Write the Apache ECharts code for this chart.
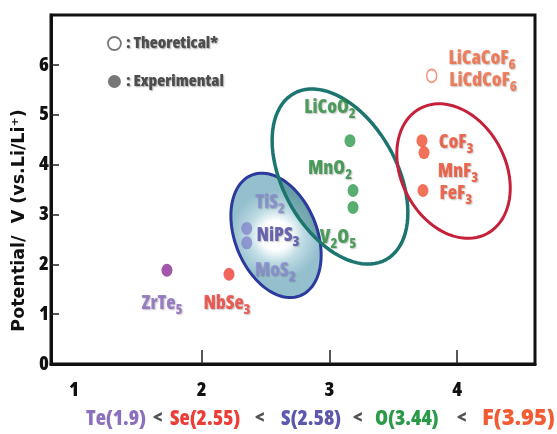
<!DOCTYPE html>
<html>
<head>
<meta charset="utf-8">
<script src="https://cdn.jsdelivr.net/npm/echarts@6.0.0/dist/echarts.min.js"></script>
<style>html,body{margin:0;padding:0;background:#fff}#c{width:557px;height:434px}</style>
</head>
<body>
<div id="c"></div>
<script>
// ---- data ----
const xTickLabels = [1, 2, 3, 4];
const yTickLabels = [0, 1, 2, 3, 4, 5, 6];
// experimental (filled) points
const expNames = ['ZrTe5', 'NbSe3', 'NiPS3', 'NiPS3', 'LiCoO2', 'MnO2', 'V2O5', 'CoF3', 'MnF3', 'FeF3'];
const expGroup = ['Te', 'Se', 'S', 'S', 'O', 'O', 'O', 'F', 'F', 'F'];
const expX = [1.728, 2.214, 2.353, 2.353, 3.161, 3.185, 3.185, 3.725, 3.741, 3.733];
const expY = [1.88, 1.80, 2.72, 2.43, 4.48, 3.48, 3.14, 4.48, 4.24, 3.48];
// theoretical (open) point
const theoNames = ['LiCaCoF6 / LiCdCoF6'];
const theoX = [3.801];
const theoY = [5.78];
// compound labels (anchor in data units)
const labelText = ['ZrTe{s|5}', 'NbSe{s|3}', 'TiS{s|2}', 'NiPS{s|3}', 'MoS{s|2}', 'LiCoO{s|2}', 'MnO{s|2}', 'V{s|2}O{s|5}', 'CoF{s|3}', 'MnF{s|3}', 'FeF{s|3}', 'LiCaCoF{s|6}', 'LiCdCoF{s|6}'];
const labelKind = ['Te', 'Se', 'Slight', 'S', 'Slight', 'O', 'O', 'O', 'F', 'F', 'F', 'T', 'T'];
const labelX = [1.689, 2.198, 2.535, 2.598, 2.574, 3.005, 3.005, 3.067, 3.992, 4.007, 3.99, 4.195, 4.203];
const labelY = [1.22, 1.22, 3.24, 2.58, 1.88, 5.14, 3.92, 2.54, 4.44, 3.86, 3.42, 6.12, 5.68];
// grouping ellipses (centres in data units)
const ellipseGroup = ['S', 'O', 'F'];
const ellipseCX = [2.582, 3.083, 3.972];
const ellipseCY = [2.58, 3.76, 3.87];
// electronegativity scale text
const scaleText = ['Te(1.9)', '<', 'Se(2.55)', '<', 'S(2.58)', '<', 'O(3.44)', '<', 'F(3.95)'];
const scaleKind = ['Te', 'lt', 'Se', 'lt', 'S', 'lt', 'O', 'lt', 'F'];

// ---- styles ----
const FAM = '"Open Sans","Liberation Sans",sans-serif';
const W_SEMI = '800 semi-condensed';
const W_COND = '800 condensed';
const pointColor = { Te: '#8c2d96', Se: '#ec3f36', S: 'rgba(120,120,200,0.85)', O: '#2e9a4c', F: '#ef4d31' };
const labelColor = { Te: '#8a66bd', Se: '#ec4037', Slight: 'rgba(135,135,208,0.9)', S: '#4f4aa6', O: '#2c8c40', F: '#f04c2e', T: '#f2683f' };
const scaleColor = { Te: '#8c70bd', Se: '#ee3d36', S: '#5b58ae', O: '#2b9a48', F: '#f25c33', lt: '#555555' };
const scaleLeft = [86, 153, 170, 255, 281, 353, 375, 457, 482];
const ellipseShape = {
  S: { a: 65, b: 41, tilt: 22, stroke: '#2b3a9c', width: 3 },
  O: { a: 95, b: 57, tilt: 29, stroke: '#1c756e', width: 3.5 },
  F: { a: 71, b: 52, tilt: 28, stroke: '#c5213a', width: 3 }
};

function ellipsePoints(c, sh) {
  const phi = sh.tilt * Math.PI / 180;
  const ux = Math.sin(phi), uy = Math.cos(phi), vx = Math.cos(phi), vy = -Math.sin(phi);
  const pts = [];
  for (let k = 0; k < 90; k++) {
    const t = k / 90 * Math.PI * 2;
    pts.push([c[0] + sh.a * Math.cos(t) * ux + sh.b * Math.sin(t) * vx,
              c[1] + sh.a * Math.cos(t) * uy + sh.b * Math.sin(t) * vy]);
  }
  return pts;
}

const chart = echarts.init(document.getElementById('c'), null, { renderer: 'canvas' });

const richSub = { s: { fontSize: 14, verticalAlign: 'bottom', lineHeight: 27 } };

const option = {
  animation: false,
  backgroundColor: '#fff',
  grid: { left: 51, right: 22, top: 15, bottom: 70, show: true, borderColor: '#111', borderWidth: 3 },
  legend: {
    orient: 'vertical', left: 102, top: 30, itemWidth: 13, itemHeight: 13, itemGap: 21,
    selectedMode: false,
    formatter: ': {name}',
    textStyle: { fontFamily: FAM, fontWeight: W_COND, fontSize: 16.5, color: '#4d4d4d',
      textShadowColor: 'rgba(0,0,0,0.35)', textShadowBlur: 1.5, textShadowOffsetX: 1, textShadowOffsetY: 1 },
    data: [
      { name: 'Theoretical*', icon: 'circle', itemStyle: { color: '#ffffff', borderColor: '#555', borderWidth: 1.8 } },
      { name: 'Experimental', icon: 'circle', itemStyle: { color: '#555555', borderWidth: 0 } }
    ]
  },
  xAxis: {
    type: 'value', min: 0.82, max: 4.61,
    axisLine: { show: true, lineStyle: { color: '#111', width: 3 } },
    axisTick: { show: true, inside: true, length: 14, lineStyle: { color: '#222', width: 1.5 }, customValues: [2, 3, 4] },
    axisLabel: { customValues: xTickLabels, margin: 16, fontFamily: FAM, fontWeight: W_SEMI, fontSize: 20, color: '#111' },
    splitLine: { show: false }
  },
  yAxis: {
    type: 'value', min: 0, max: 7,
    name: 'Potential/  V (vs.Li/Li\u207A)', nameLocation: 'middle', nameGap: 23,
    nameTextStyle: { fontFamily: '"DejaVu Sans",sans-serif', fontWeight: 'bold', fontSize: 17.5, color: '#111', padding: [0, 62, 0, 0] },
    axisLine: { show: true, lineStyle: { color: '#111', width: 3 } },
    axisTick: { show: true, inside: true, length: 8, lineStyle: { color: '#222', width: 1.5 }, customValues: [1, 2, 3, 4, 5, 6] },
    axisLabel: { customValues: yTickLabels, margin: 2, fontFamily: FAM, fontWeight: W_SEMI, fontSize: 20, color: '#111' },
    splitLine: { show: false }
  },
  graphic: scaleText.map((t, i) => ({
    type: 'text', left: scaleLeft[i], top: scaleKind[i] === 'F' ? 408 : 409, z: 10,
    style: {
      text: t, fill: scaleColor[scaleKind[i]],
      font: (scaleKind[i] === 'F' ? '800 22px ' : (scaleKind[i] === 'lt' ? '800 semi-condensed 19px ' : '800 semi-condensed 21px ')) + FAM
    }
  })),
  series: [
    {
      type: 'custom', name: 'groups', z: 1, silent: true, clip: false,
      data: ellipseCX.map((x, i) => [x, ellipseCY[i]]),
      renderItem: function (params, api) {
        const g = ellipseGroup[params.dataIndex];
        const sh = ellipseShape[g];
        const pts = ellipsePoints(api.coord([api.value(0), api.value(1)]), sh);
        if (g !== 'S') {
          return { type: 'polygon', shape: { points: pts }, style: { fill: 'none', stroke: sh.stroke, lineWidth: sh.width } };
        }
        const oi = ellipseGroup.indexOf('O');
        const oPts = ellipsePoints(api.coord([ellipseCX[oi], ellipseCY[oi]]), ellipseShape.O);
        return {
          type: 'group',
          children: [
            {
              type: 'polygon', shape: { points: pts },
              style: {
                fill: new echarts.graphic.RadialGradient(0.5, 0.5, 0.5, [
                  { offset: 0, color: '#ffffff' }, { offset: 0.32, color: '#ffffff' },
                  { offset: 0.6, color: '#bfdce4' }, { offset: 1, color: '#94bfcd' }]),
                stroke: 'none'
              }
            },
            {
              type: 'polygon', shape: { points: oPts },
              style: { fill: 'rgba(30,105,105,0.38)', stroke: 'none' },
              clipPath: { type: 'polygon', shape: { points: pts } }
            },
            {
              type: 'polygon', shape: { points: pts },
              style: { fill: 'none', stroke: sh.stroke, lineWidth: sh.width }
            }
          ]
        };
      }
    },
    {
      type: 'scatter', name: 'Experimental', z: 3, symbol: 'circle', symbolSize: [11, 13],
      itemStyle: { color: '#555' },
      data: expX.map((x, i) => ({ name: expNames[i], value: [x, expY[i]], itemStyle: { color: pointColor[expGroup[i]] } }))
    },
    {
      type: 'scatter', name: 'Theoretical*', z: 3, symbol: 'circle', symbolSize: [10, 13],
      itemStyle: { color: '#ffffff', borderColor: '#f2704f', borderWidth: 1.5 },
      data: theoX.map((x, i) => ({ name: theoNames[i], value: [x, theoY[i]] }))
    },
    {
      type: 'scatter', name: 'labels', z: 5, silent: true, symbol: 'circle', symbolSize: 1,
      itemStyle: { color: 'rgba(0,0,0,0)' },
      label: {
        show: true, position: 'inside', align: 'center', verticalAlign: 'middle',
        formatter: p => labelText[p.dataIndex],
        fontFamily: FAM, fontWeight: W_SEMI, fontSize: 19, lineHeight: 27,
        textShadowColor: 'rgba(0,0,0,0.3)', textShadowBlur: 1.5, textShadowOffsetX: 1, textShadowOffsetY: 1,
        rich: richSub
      },
      data: labelX.map((x, i) => ({ value: [x, labelY[i]], label: { color: labelColor[labelKind[i]] } }))
    }
  ]
};
chart.setOption(option);
</script>
</body>
</html>
